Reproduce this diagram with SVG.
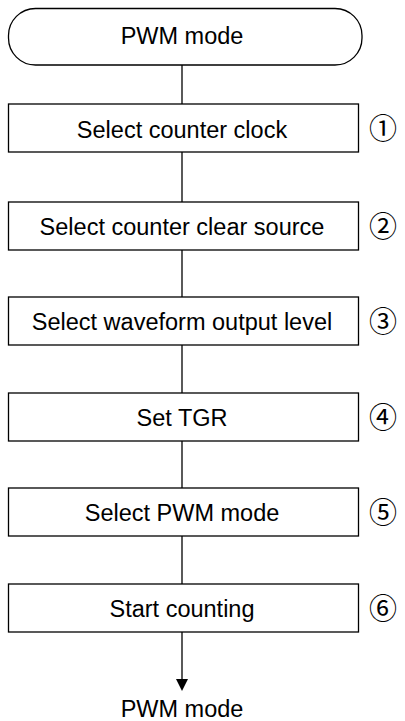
<svg xmlns="http://www.w3.org/2000/svg" width="405" height="721" viewBox="0 0 405 721">
<style>
.box{fill:#fff;stroke:#000;stroke-width:1.3}
.t{font-family:"Liberation Sans",Arial,sans-serif;font-size:23.5px;text-anchor:middle;fill:#000}
.n{font-family:"Noto Sans CJK JP","DejaVu Sans",sans-serif;font-size:28px;text-anchor:middle;fill:#000}
.c{stroke:#000;stroke-width:1.3;fill:none}
</style>
<rect width="405" height="721" fill="#fff"/>
<g id="connectors">
<line class="c" x1="182" y1="65" x2="182" y2="104"/>
<line class="c" x1="182" y1="152" x2="182" y2="202"/>
<line class="c" x1="182" y1="250" x2="182" y2="297"/>
<line class="c" x1="182" y1="345" x2="182" y2="393"/>
<line class="c" x1="182" y1="441" x2="182" y2="488"/>
<line class="c" x1="182" y1="536" x2="182" y2="584"/>
<line class="c" x1="182" y1="632" x2="182" y2="682"/>
<polygon points="176,679 188,679 182,691" fill="#000"/>
</g>
<g id="start">
<rect class="box" x="8.5" y="8.5" width="353.5" height="56.5" rx="27" ry="27"/>
<text class="t" x="182" y="43.5">PWM mode</text>
</g>
<g id="step1">
<rect class="box" x="8.5" y="104" width="350" height="48"/>
<text class="t" x="182" y="137.5">Select counter clock</text>
<text class="n" x="383" y="138.5">①</text>
</g>
<g id="step2">
<rect class="box" x="8.5" y="202" width="350" height="48"/>
<text class="t" x="182" y="234.5">Select counter clear source</text>
<text class="n" x="383" y="236.5">②</text>
</g>
<g id="step3">
<rect class="box" x="8.5" y="297" width="350" height="48"/>
<text class="t" x="182" y="329.5">Select waveform output level</text>
<text class="n" x="383" y="331.5">③</text>
</g>
<g id="step4">
<rect class="box" x="8.5" y="393" width="350" height="48"/>
<text class="t" x="182" y="425.5">Set TGR</text>
<text class="n" x="383" y="427.5">④</text>
</g>
<g id="step5">
<rect class="box" x="8.5" y="488" width="350" height="48"/>
<text class="t" x="182" y="520.5">Select PWM mode</text>
<text class="n" x="383" y="522.5">⑤</text>
</g>
<g id="step6">
<rect class="box" x="8.5" y="584" width="350" height="48"/>
<text class="t" x="182" y="616.5">Start counting</text>
<text class="n" x="383" y="618.5">⑥</text>
</g>
<g id="end">
<text class="t" x="182" y="716.5">PWM mode</text>
</g>
</svg>
